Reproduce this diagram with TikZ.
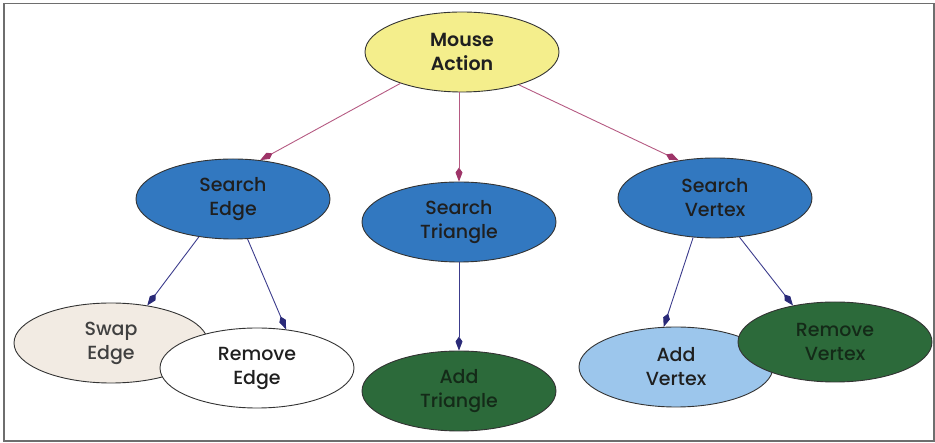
\documentclass[tikz,border=0pt]{standalone}
\usepackage{fontspec}
\setmainfont{Poppins}[UprightFont={* Medium},BoldFont={* SemiBold}]
\usetikzlibrary{shapes.geometric,arrows.meta}
\definecolor{ylw}{HTML}{F4EE8C}
\definecolor{blu}{HTML}{3278C0}
\definecolor{beige}{HTML}{F2EBE3}
\definecolor{lblu}{HTML}{9CC6EC}
\definecolor{dgrn}{HTML}{2C6A3A}
\definecolor{dgrntxt}{HTML}{142A18}
\definecolor{pinkln}{HTML}{B55A82}
\definecolor{pinktip}{HTML}{9E3468}
\definecolor{blueln}{HTML}{3C3C8C}
\definecolor{bluetip}{HTML}{2A2A78}
\definecolor{frame}{HTML}{6E6E6E}
\tikzset{
  oval/.style={ellipse, draw=black!80, line width=0.9pt, minimum width=194pt, minimum height=80pt, inner sep=0pt, align=center, font=\fontsize{19}{24}\selectfont, text=black!88},
  topln/.style={draw=pinkln, line width=0.9pt, -{Kite[length=14pt,width=7pt,inset=5pt,color=pinktip]}},
  lowln/.style={draw=blueln, line width=0.9pt, -{Kite[length=14pt,width=7pt,inset=5pt,color=bluetip]}}
}
\begin{document}
\begin{tikzpicture}[x=1pt,y=-1pt]
\useasboundingbox (0,0) rectangle (935,443);
\draw[frame, line width=1.5pt] (4,3.5) rectangle (934,441);
\node[oval, fill=ylw, font=\fontsize{19}{24}\selectfont\bfseries] (ma) at (462,52) {Mouse\\Action};
\node[oval, fill=blu] (se) at (233,199) {Search\\Edge};
\node[oval, fill=blu] (st) at (459,222) {Search\\Triangle};
\node[oval, fill=blu] (sv) at (715,198) {Search\\Vertex};
\node[oval, fill=beige, text=black!75] (swe) at (111,343) {Swap\\Edge};
\node[oval, fill=white] (ree) at (257,368) {Remove\\Edge};
\node[oval, fill=dgrn, text=dgrntxt] (at) at (459,391) {Add\\Triangle};
\node[oval, fill=lblu] (av) at (676,367) {Add\\Vertex};
\node[oval, fill=dgrn, text=dgrntxt] (rv) at (835,342) {Remove\\Vertex};
\draw[topln] (ma.207) -- (se.55);
\draw[topln] (st.north |- ma.south) -- (st.north);
\draw[topln] (ma.330) -- (sv.134);
\draw[lowln] (se.228) -- (swe.46);
\draw[lowln] (se.290) -- (ree.53);
\draw[lowln] (st.south) -- (at.north);
\draw[lowln] (sv.241) -- (av.107);
\draw[lowln] (sv.302) -- (rv.139);
\end{tikzpicture}
\end{document}
